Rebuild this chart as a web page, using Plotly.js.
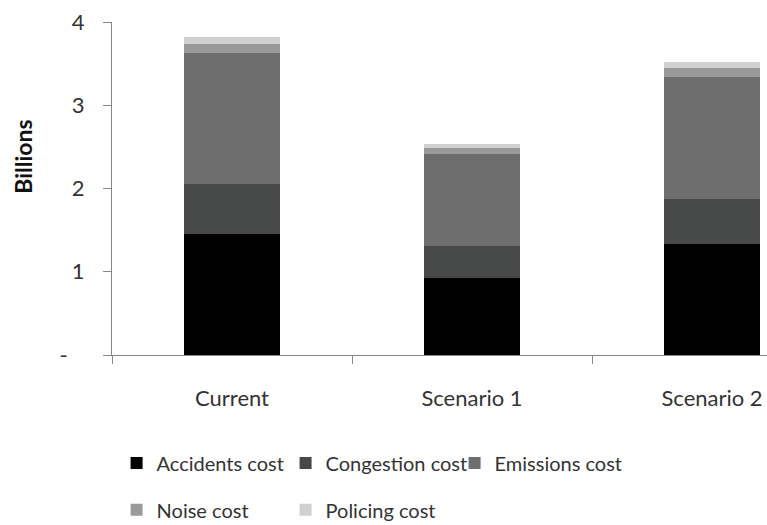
<!DOCTYPE html>
<html>
<head>
<meta charset="utf-8">
<script src="https://cdn.plot.ly/plotly-3.0.1.min.js"></script>
<style>
  html, body { margin: 0; padding: 0; background: #fff; overflow: hidden; }
  #chart { width: 767px; height: 525px; }
</style>
</head>
<body>
<div id="chart"></div>
<script>
// Road transport external costs by scenario, in billions
const scenarios = ["Current", "Scenario 1", "Scenario 2"];

const accidentsCost  = [1.456, 0.923, 1.336];
const congestionCost = [0.600, 0.384, 0.540];
const emissionsCost  = [1.574, 1.110, 1.466];
const noiseCost      = [0.100, 0.073, 0.108];
const policingCost   = [0.084, 0.050, 0.064];

const yTickVals = [0, 1, 2, 3, 4];
const yTickText = ["-\u00a0\u00a0\u00a0", "1", "2", "3", "4"];

const FONT = "Lato, 'Open Sans', sans-serif";
const TEXT = "#333333";
const AXIS = "#868686";

function series(name, values, color, legendId) {
  return {
    type: "bar",
    name: name,
    x: scenarios,
    y: values,
    marker: { color: color, line: { width: 0 } },
    legend: legendId,
    hoverinfo: "name+y"
  };
}

const traces = [
  series("Accidents cost",  accidentsCost,  "#000000", "legend"),
  series("Congestion cost", congestionCost, "#474948", "legend"),
  series("Emissions cost",  emissionsCost,  "#6e6e6e", "legend"),
  series("Noise cost",      noiseCost,      "#9a9a9a", "legend2"),
  series("Policing cost",   policingCost,   "#d0d0d0", "legend2")
];

const legendBase = {
  orientation: "h",
  xanchor: "left",
  yanchor: "middle",
  x: 0.007,
  traceorder: "normal",
  entrywidth: 124,
  entrywidthmode: "pixels",
  itemwidth: 30,
  bgcolor: "rgba(0,0,0,0)",
  font: { family: FONT, size: 20, color: TEXT }
};

const layout = {
  width: 767,
  height: 525,
  margin: { l: 112, r: 0, t: 22, b: 170, autoexpand: false },
  paper_bgcolor: "#ffffff",
  plot_bgcolor: "#ffffff",
  barmode: "stack",
  bargap: 0.6,
  showlegend: true,
  font: { family: FONT, color: TEXT },
  xaxis: {
    type: "category",
    range: [-0.5, 2.229],
    tickson: "boundaries",
    ticks: "outside",
    ticklen: 8,
    tickcolor: AXIS,
    showline: true,
    linecolor: AXIS,
    linewidth: 1,
    showgrid: false,
    zeroline: false,
    ticklabelstandoff: 24,
    tickfont: { family: FONT, size: 22, color: TEXT },
    fixedrange: true
  },
  yaxis: {
    range: [0, 4],
    tickmode: "array",
    tickvals: yTickVals,
    ticktext: yTickText,
    ticks: "outside",
    ticklen: 8,
    tickcolor: AXIS,
    showline: true,
    linecolor: AXIS,
    linewidth: 1,
    showgrid: false,
    zeroline: false,
    ticklabelstandoff: 14,
    tickfont: { family: FONT, size: 22, color: TEXT },
    fixedrange: true
  },
  legend: Object.assign({}, legendBase, { y: -0.324 }),
  legend2: Object.assign({}, legendBase, { y: -0.465 }),
  annotations: [{
    text: "<b>Billions</b>",
    xref: "paper", yref: "paper",
    x: -0.136, y: 0.595,
    xanchor: "center", yanchor: "middle",
    textangle: -90,
    showarrow: false,
    font: { family: FONT, size: 23, color: "#111111" }
  }]
};

Plotly.newPlot("chart", traces, layout, { displayModeBar: false, staticPlot: true });
</script>
</body>
</html>
